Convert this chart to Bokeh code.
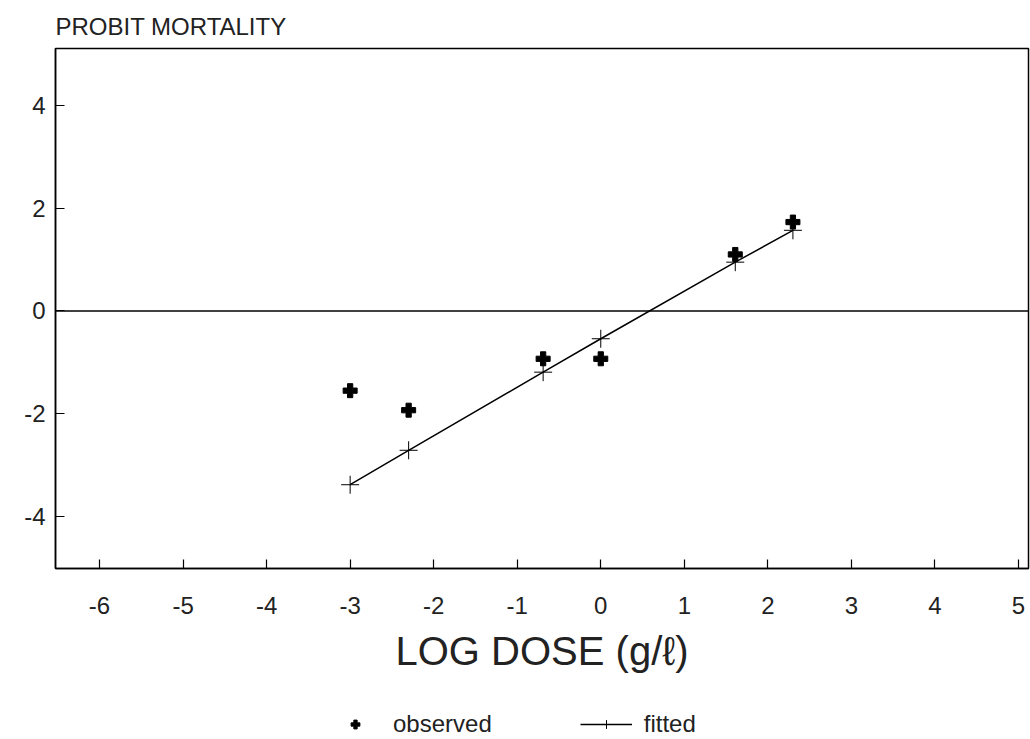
from bokeh.plotting import figure
from bokeh.models import Span, Legend, LegendItem, FixedTicker, Range1d
from bokeh.layouts import column
from bokeh.embed import file_html
from bokeh.resources import INLINE

# ---- data ----
log_dose = [-3.0, -2.3, -0.69, 0.0, 1.61, 2.3]
observed = [-1.55, -1.93, -0.93, -0.93, 1.10, 1.73]
fitted = [-3.38, -2.71, -1.19, -0.54, 0.95, 1.57]

x_ticks = [-6, -5, -4, -3, -2, -1, 0, 1, 2, 3, 4, 5]
x_tick_labels = ["-6", "-5", "-4", "-3", "-2", "-1", "0", "1", "2", "3", "4", "5"]
y_ticks = [-4, -2, 0, 2, 4]
y_tick_labels = ["-4", "-2", "0", "2", "4"]

title_text = "PROBIT MORTALITY"
x_label = "LOG DOSE (g/\u2113)"
legend_labels = ["observed", "fitted"]

FONT = "Liberation Sans"
INK = "#222222"

# ---------------- main chart ----------------
p = figure(width=1030, height=706, output_backend="svg", toolbar_location=None,
           x_range=Range1d(-6.527, 5.12), y_range=Range1d(-5.01, 5.107),
           min_border_left=55, min_border_right=2, min_border_top=48,
           min_border_bottom=138)

p.title.text = title_text
p.title.align = "left"
p.title.text_font = FONT
p.title.text_font_size = "24px"
p.title.text_font_style = "normal"
p.title.text_color = INK
p.title.standoff = 18

p.grid.visible = False
p.outline_line_color = "black"
p.outline_line_width = 1.5
p.background_fill_color = "white"
p.border_fill_color = "white"

p.xaxis.ticker = FixedTicker(ticks=x_ticks)
p.xaxis.major_label_overrides = {t: l for t, l in zip(x_ticks, x_tick_labels)}
p.yaxis.ticker = FixedTicker(ticks=y_ticks)
p.yaxis.major_label_overrides = {t: l for t, l in zip(y_ticks, y_tick_labels)}
for ax in (p.xaxis, p.yaxis):
    ax.axis_line_color = "black"
    ax.axis_line_width = 1.5
    ax.major_tick_in = 9
    ax.major_tick_out = 0
    ax.minor_tick_line_color = None
    ax.major_tick_line_color = "black"
    ax.major_tick_line_width = 1.2
    ax.major_label_text_font = FONT
    ax.major_label_text_font_size = "24px"
    ax.major_label_text_color = INK

p.xaxis.major_label_standoff = 28
p.yaxis.major_label_standoff = 10
p.xaxis.axis_label = x_label
p.xaxis.axis_label_text_font = FONT
p.xaxis.axis_label_text_font_size = "40px"
p.xaxis.axis_label_text_font_style = "normal"
p.xaxis.axis_label_text_color = INK
p.xaxis.axis_label_standoff = 12

p.add_layout(Span(location=0, dimension="width", line_color="black", line_width=1.3))

p.line(log_dose, fitted, line_color="black", line_width=1.5)
p.scatter(log_dose, fitted, marker="cross", size=18, line_color="black", line_width=1)
p.scatter(log_dose, observed, marker="plus", size=14, fill_color="black",
          line_color="black", line_width=1)

# ---------------- legend strip below ----------------
q = figure(width=1030, height=33, output_backend="svg", toolbar_location=None,
           x_range=Range1d(-6.527, 5.12), y_range=Range1d(100, 101),
           min_border_left=0, min_border_right=0, min_border_top=0,
           min_border_bottom=0, x_axis_location=None, y_axis_location=None)
q.grid.visible = False
q.outline_line_color = None
q.background_fill_color = "white"
q.border_fill_color = "white"

# same series; they fall outside this strip's y range, only the legend shows them
lg_line = q.line(log_dose, fitted, line_color="black", line_width=1.5)
lg_fit = q.scatter(log_dose, fitted, marker="cross", size=18, line_color="black",
                   line_width=1)
lg_obs = q.scatter(log_dose, observed, marker="plus", size=12, fill_color="black",
                   line_color="black", line_width=1)

legend = Legend(items=[LegendItem(label=legend_labels[0], renderers=[lg_obs]),
                       LegendItem(label=legend_labels[1], renderers=[lg_line, lg_fit])],
                orientation="horizontal", location=(274, 1),
                border_line_color=None, background_fill_alpha=0,
                label_text_font=FONT, label_text_font_size="24px",
                label_text_color=INK,
                glyph_width=52, glyph_height=22, label_standoff=12, spacing=88,
                margin=0, padding=2)
q.add_layout(legend, "center")

open("out.html", "w").write(file_html(column(p, q, spacing=0), INLINE))
